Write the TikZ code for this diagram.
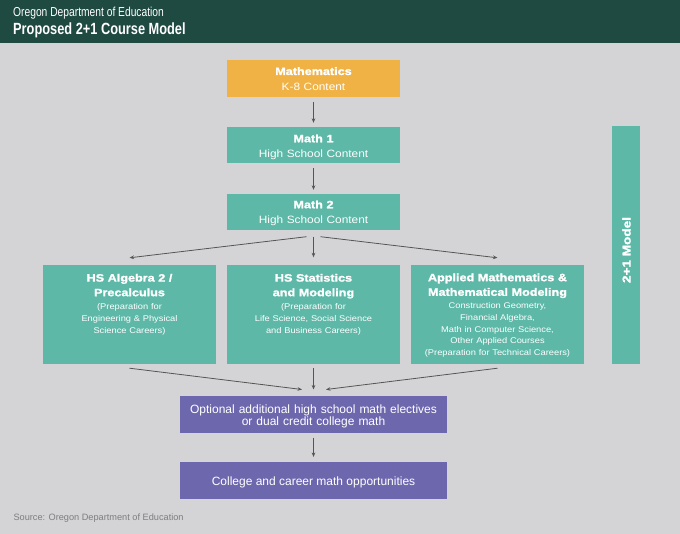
\documentclass[tikz,border=0pt]{standalone}
\usepackage{fontspec}
\setmainfont{Liberation Sans}
\newfontfamily\condfont[FakeStretch=0.79]{Liberation Sans}
\newfontfamily\widefont[FakeStretch=1.12]{Liberation Sans}
\newfontfamily\wideboldfam[FakeStretch=1.18,BoldFeatures={FakeBold=1.6}]{Liberation Sans}
\usetikzlibrary{arrows.meta,calc}
\definecolor{hdrgreen}{HTML}{1E4A42}
\definecolor{bggray}{HTML}{D4D4D6}
\definecolor{mathorange}{HTML}{F0B245}
\definecolor{tealc}{HTML}{5DB8A7}
\definecolor{purplec}{HTML}{6D67AE}
\definecolor{arrowgray}{HTML}{555555}
\definecolor{srcgray}{HTML}{7E7E80}
\tikzset{
  boxshape/.style={draw=none, inner sep=0pt, minimum width=173pt},
  tealbox/.style={boxshape, fill=tealc},
  ttl/.style={text=white, inner sep=0pt, anchor=base, font=\wideboldfam\bfseries\fontsize{10.7}{14.6}\selectfont, text width=172pt, align=center},
  bdy/.style={text=white, inner sep=0pt, anchor=base, font=\widefont\fontsize{10.6}{14}\selectfont, text width=172pt, align=center},
  small/.style={text=white, inner sep=0pt, anchor=base, font=\widefont\fontsize{8.3}{11.9}\selectfont, text width=172pt, align=center},
  conn/.style={draw=arrowgray, line width=0.8pt, -{Stealth[length=4.5pt,width=3.6pt]}},
}
\begin{document}
\begin{tikzpicture}[x=1pt,y=-1pt]
\useasboundingbox (0,0) rectangle (680,534);
\fill[bggray] (0,0) rectangle (680,534);
\fill[hdrgreen] (0,0) rectangle (680,43);
\node[anchor=base west, inner sep=0pt, text=white, font=\condfont\fontsize{13}{15}\selectfont] (org) at (13,16.7) {Oregon Department of Education};
\node[anchor=base west, inner sep=0pt, text=white, font=\condfont\bfseries\fontsize{16.2}{18}\selectfont] (title) at (13,34.3) {Proposed 2+1 Course Model};

% top chain
\node[boxshape, fill=mathorange, minimum height=37pt] (math) at (313.5,78.5) {};
\node[ttl] (mathT) at (313.5,75) {Mathematics};
\node[bdy] (mathB) at (313.5,90.5) {K-8 Content};

\node[tealbox, minimum height=36pt] (m1) at (313.5,145) {};
\node[ttl] (m1T) at (313.5,142.3) {Math 1};
\node[bdy] (m1B) at (313.5,157.7) {High School Content};

\node[tealbox, minimum height=36pt] (m2) at (313.5,212) {};
\node[ttl] (m2T) at (313.5,208.3) {Math 2};
\node[bdy] (m2B) at (313.5,223.3) {High School Content};

% three pathways
\node[tealbox, minimum height=98.5pt] (b1) at (129.5,314.75) {};
\node[ttl] (b1T) at (129.5,281.6) {HS Algebra 2 /\\Precalculus};
\node[small] (b1B) at (129.5,309.3) {(Preparation for\\Engineering \& Physical\\Science Careers)};

\node[tealbox, minimum height=98.5pt] (b2) at (313.5,314.75) {};
\node[ttl] (b2T) at (313.5,281.6) {HS Statistics\\and Modeling};
\node[small] (b2B) at (313.5,309.3) {(Preparation for\\Life Science, Social Science\\and Business Careers)};

\node[tealbox, minimum height=98.5pt] (b3) at (497.5,314.75) {};
\node[ttl] (b3T) at (497.5,281.2) {Applied Mathematics \&\\Mathematical Modeling};
\node[small] (b3B) at (497.5,308.3) {Construction Geometry,\\Financial Algebra,\\Math in Computer Science,\\Other Applied Courses\\(Preparation for Technical Careers)};

% side bar
\node[draw=none, fill=tealc, inner sep=0pt, minimum width=27.5pt, minimum height=238pt] (side) at (626,245) {};
\node[rotate=90, text=white, inner sep=0pt, font=\wideboldfam\bfseries\fontsize{11.5}{15}\selectfont] (sideT) at (626.5,250) {2+1 Model};

% purple boxes
\node[boxshape, fill=purplec, minimum width=267pt, minimum height=37.6pt] (opt) at (313.5,414.5) {};
\node[text=white, inner sep=0pt, anchor=base, font=\fontsize{12}{12.5}\selectfont, text width=265pt, align=center] (optT) at (313.5,413.4) {Optional additional high school math electives\\or dual credit college math};
\node[boxshape, fill=purplec, minimum width=267pt, minimum height=37.6pt] (coll) at (313.5,480.5) {};
\node[text=white, inner sep=0pt, anchor=base, font=\fontsize{12}{14}\selectfont] (collT) at (313.5,485) {College and career math opportunities};

\node[anchor=base west, inner sep=0pt, text=srcgray, font=\fontsize{9.2}{11}\selectfont] (src) at (13.3,520) {Source: Oregon Department of Education};

% connectors
\draw[conn] ($(math.south)+(0,5)$) -- ($(m1.north)+(0,-4)$);
\draw[conn] ($(m1.south)+(0,5)$) -- ($(m2.north)+(0,-4)$);
\coordinate (m2L) at ($(m2.south)+(-7,6.5)$);
\coordinate (m2R) at ($(m2.south)+(7,6.5)$);
\draw[conn] (m2L) -- ($(b1.north)+(0,-7.5)$);
\draw[conn] ($(m2.south)+(0,6.5)$) -- ($(b2.north)+(0,-8)$);
\draw[conn] (m2R) -- ($(b3.north)+(0,-7.5)$);
\draw[conn] ($(b1.south)+(0,4)$) -- ($(opt.north)+(-11.5,-6)$);
\draw[conn] ($(b2.south)+(0,4)$) -- ($(opt.north)+(0,-6)$);
\draw[conn] ($(b3.south)+(0,4)$) -- ($(opt.north)+(12.5,-6)$);
\draw[conn] ($(opt.south)+(0,4)$) -- ($(coll.north)+(0,-4.5)$);
\end{tikzpicture}
\end{document}
